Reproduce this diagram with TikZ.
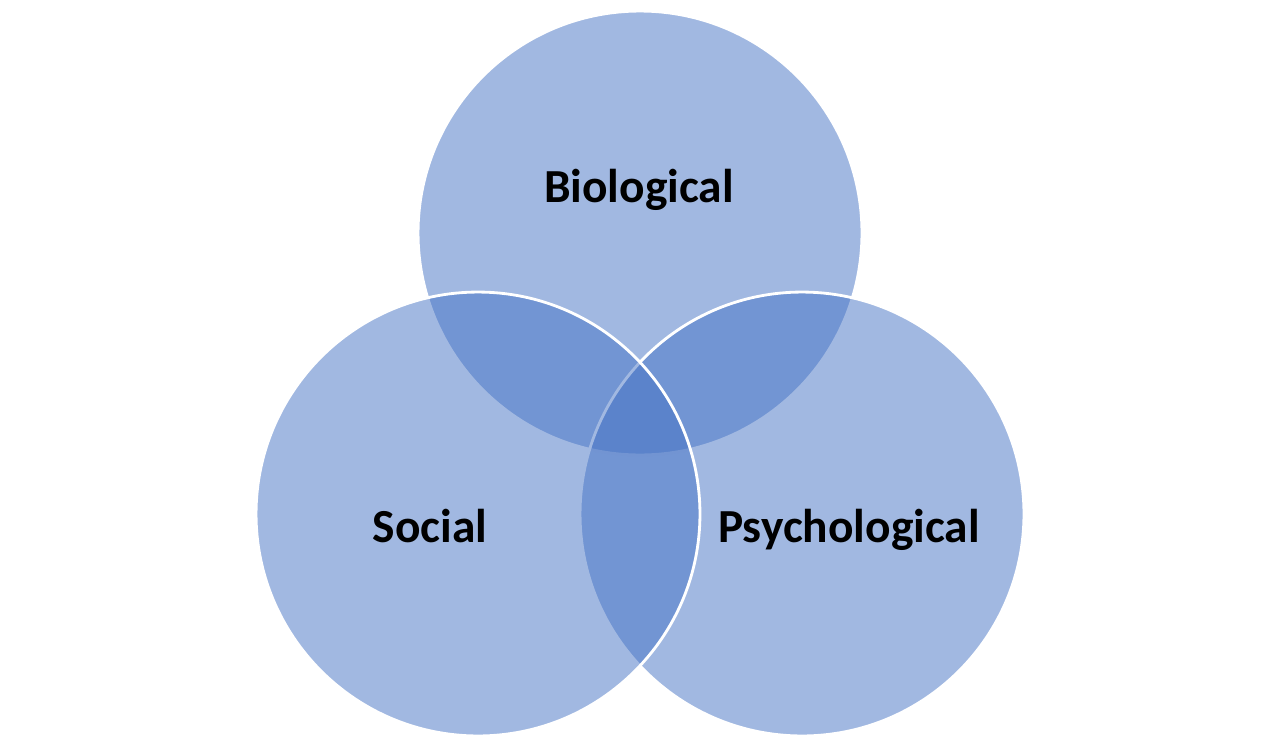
\documentclass[tikz,border=0pt]{standalone}
\usepackage{fontspec}
\setmainfont{Carlito}
\definecolor{vennblue}{HTML}{4472C4}
\begin{document}
\begin{tikzpicture}[x=0.02cm,y=0.02cm,
  venn/.style={fill=vennblue,fill opacity=0.5,draw=white,line width=1.6pt},
  lbl/.style={anchor=base,font=\fontsize{27}{32}\selectfont\bfseries,text=black}]
\useasboundingbox (0,0) rectangle (1280,-747);
\draw[venn] (640,-233) circle (4.44cm);
\draw[venn] (802,-514) circle (4.44cm);
\draw[venn] (478,-514) circle (4.44cm);
\node[lbl] (bio) at (639,-202) {Biological};
\node[lbl] (soc) at (430,-542) {Social};
\node[lbl] (psy) at (849,-542) {Psychological};
\end{tikzpicture}
\end{document}
